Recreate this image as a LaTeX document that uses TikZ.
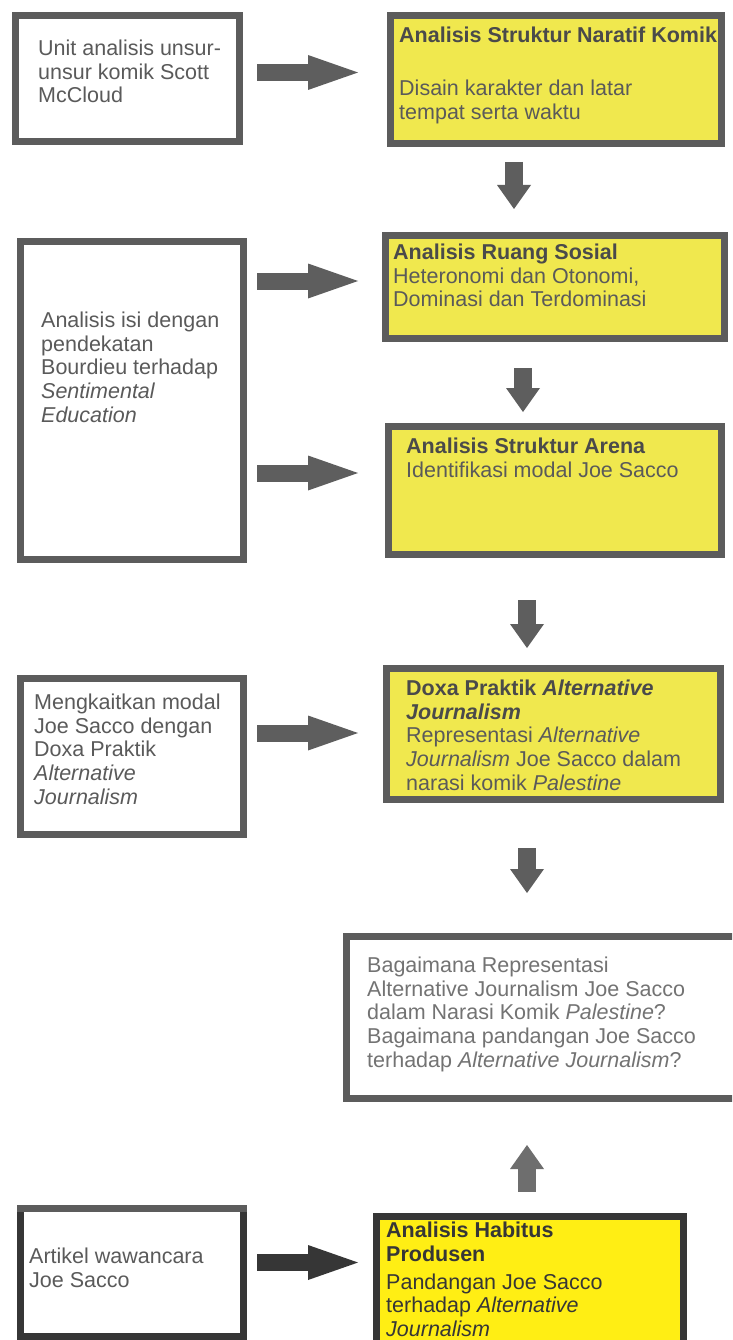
\documentclass[tikz,border=0pt]{standalone}
\usepackage{fontspec}
\setmainfont{Liberation Sans}
\usetikzlibrary{arrows.meta}

\definecolor{boxedge}{HTML}{5C5C5C}
\definecolor{darkedge}{HTML}{363636}
\definecolor{paleyellow}{HTML}{F0E84E}
\definecolor{brightyellow}{HTML}{FFEE14}
\definecolor{textgray}{HTML}{5A5A5A}
\definecolor{titlegray}{HTML}{4A4A4A}
\definecolor{arrowgray}{HTML}{5E5E5E}

\newcommand{\boxtitle}[1]{{\bfseries\color{titlegray}#1}}

\tikzset{
  box/.style={draw=boxedge, line width=7pt, fill=white, inner sep=0pt},
  yellowbox/.style={box, fill=paleyellow},
  txt/.style={anchor=north west, align=left, inner sep=0pt, text=textgray,
    font=\fontsize{21.5}{23.7}\selectfont},
  flow/.style={line width=17pt, draw=arrowgray,
    -{Triangle[length=50pt,width=35pt,line width=0pt]}},
  flowdown/.style={line width=18pt, draw=arrowgray,
    -{Triangle[length=24pt,width=34pt,line width=0pt]}},
}

\begin{document}
\begin{tikzpicture}[x=1pt,y=-1pt]
        \useasboundingbox (0,0) rectangle (732,1340);
        \fill[white] (0,0) rectangle (732,1340);
        \clip (0,0) rectangle (732,1340);

        % Left column
        \node[box, minimum width=224pt, minimum height=126pt] (unit) at (127.5,78.5) {};
        \node[box, minimum width=223pt, minimum height=318pt] (isi) at (132,400.5) {};
        \node[box, minimum width=223pt, minimum height=156pt] (kaitan) at (132,756.5) {};
        \node[box, draw=darkedge, minimum width=223pt, minimum height=128pt] (artikel) at (132,1272.5) {};
        \draw[boxedge, line width=7pt] ([yshift=-3.5pt]artikel.north west) -- ([yshift=-3.5pt]artikel.north east);

        % Right column
        \node[yellowbox, minimum width=331pt, minimum height=128pt] (naratif) at (556,79.5) {};
        \node[yellowbox, minimum width=339pt, minimum height=103pt] (ruang) at (555,287) {};
        \node[yellowbox, minimum width=333pt, minimum height=128pt] (arena) at (555,490.5) {};
        \node[yellowbox, minimum width=334pt, minimum height=131pt] (doxa) at (553.5,734) {};
        \node[box, minimum width=390pt, minimum height=162pt] (rumusan) at (541.5,1017.5) {};
        \node[box, draw=darkedge, fill=brightyellow, minimum width=307pt, minimum height=164pt] (habitus) at (530,1298) {};

        % Texts
        \node[txt] (unittext) at ([shift={(26,27.6)}]unit.north west)
            {Unit analisis unsur-\\unsur komik Scott\\McCloud};
        \node[txt] (isitext) at ([shift={(24,73.6)}]isi.north west)
            {Analisis isi dengan\\pendekatan\\Bourdieu terhadap\\\emph{Sentimental}\\\emph{Education}};
        \node[txt] (kaitantext) at ([shift={(17,18.6)}]kaitan.north west)
            {Mengkaitkan modal\\Joe Sacco dengan\\Doxa Praktik\\\emph{Alternative}\\\emph{Journalism}};
        \node[txt] (artikeltext) at ([shift={(12,42.6)}]artikel.north west)
            {Artikel wawancara\\Joe Sacco};

        \node[txt] (naratiftext) at ([shift={(12,14.6)}]naratif.north west)
            {\boxtitle{Analisis Struktur Naratif Komik}\\[29.5pt]Disain karakter dan latar\\tempat serta waktu};
        \node[txt] (ruangtext) at ([shift={(11,11.6)}]ruang.north west)
            {\boxtitle{Analisis Ruang Sosial}\\Heteronomi dan Otonomi,\\Dominasi dan Terdominasi};
        \node[txt] (arenatext) at ([shift={(21,14.6)}]arena.north west)
            {\boxtitle{Analisis Struktur Arena}\\Identifikasi modal Joe Sacco};
        \node[txt] (doxatext) at ([shift={(23,14.6)}]doxa.north west)
            {\boxtitle{Doxa Praktik \emph{Alternative}}\\\boxtitle{\emph{Journalism}}\\Representasi \emph{Alternative}\\\emph{Journalism} Joe Sacco dalam\\narasi komik \emph{Palestine}};
        \node[txt, text=textgray!85] (rumusantext) at ([shift={(24,23.6)}]rumusan.north west)
            {Bagaimana Representasi\\Alternative Journalism Joe Sacco\\dalam Narasi Komik \emph{Palestine}?\\Bagaimana pandangan Joe Sacco\\terhadap \emph{Alternative Journalism}?};
        \node[txt, text=darkedge] (habitustext) at ([shift={(13,9.6)}]habitus.north west)
            {{\bfseries Analisis Habitus}\\{\bfseries Produsen}\\[4pt]Pandangan Joe Sacco\\terhadap \emph{Alternative}\\\emph{Journalism}};

        % Rows and columns of the arrows
        \coordinate (rowA) at (0,72.5);
        \coordinate (rowB) at (0,281);
        \coordinate (rowC) at (0,473);
        \coordinate (rowD) at (0,733);
        \coordinate (rowE) at (0,1262.5);
        \coordinate (colA) at (514,0);
        \coordinate (colB) at (523,0);
        \coordinate (colC) at (527,0);

        % Arrows
        \draw[flow, shorten <=14pt, shorten >=29pt] (unit.east |- rowA) -- (naratif.west |- rowA);
        \draw[flow, shorten <=10pt, shorten >=24pt] (isi.east |- rowB) -- (ruang.west |- rowB);
        \draw[flow, shorten <=10pt, shorten >=27pt] (isi.east |- rowC) -- (arena.west |- rowC);
        \draw[flow, shorten <=10pt, shorten >=25pt] (kaitan.east |- rowD) -- (doxa.west |- rowD);
        \draw[flow, draw=darkedge, shorten <=10pt, shorten >=15pt] (artikel.east |- rowE) -- (habitus.west |- rowE);

        \draw[flowdown, shorten <=15pt, shorten >=23pt] (naratif.south -| colA) -- (ruang.north -| colA);
        \draw[flowdown, shorten <=26pt, shorten >=11pt] (ruang.south -| colB) -- (arena.north -| colB);
        \draw[flowdown, shorten <=42pt, shorten >=17pt] (arena.south -| colC) -- (doxa.north -| colC);
        \draw[flowdown, shorten <=45pt, shorten >=40pt] (doxa.south -| colC) -- (rumusan.north -| colC);
        \draw[flowdown, draw=arrowgray!90, shorten <=21pt, shorten >=43pt] (habitus.north -| colC) -- (rumusan.south -| colC);

\end{tikzpicture}
\end{document}
